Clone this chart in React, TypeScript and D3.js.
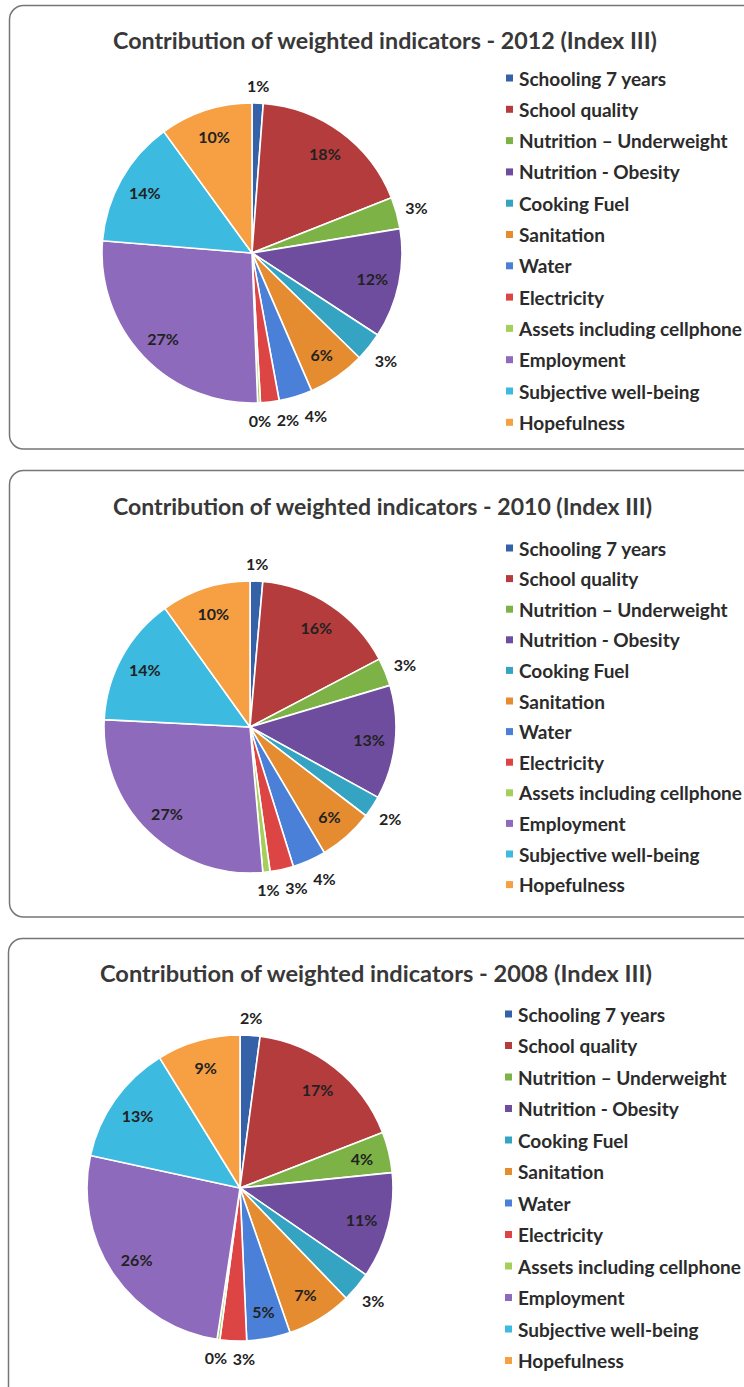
import React from "react";
import * as d3 from "d3";

const categories = [
  "Schooling 7 years",
  "School quality",
  "Nutrition – Underweight",
  "Nutrition - Obesity",
  "Cooking Fuel",
  "Sanitation",
  "Water",
  "Electricity",
  "Assets including cellphone",
  "Employment",
  "Subjective well-being",
  "Hopefulness",
];

const years = ["2012", "2010", "2008"];

// percent contributions, clockwise from 12 o'clock
const values2012 = [1.2, 17.8, 3.4, 11.8, 3.1, 6.2, 3.6, 2.0, 0.3, 26.9, 13.7, 10.0];
const values2010 = [1.4, 15.9, 3.1, 12.6, 2.4, 6.1, 3.7, 2.6, 0.8, 27.2, 14.3, 9.9];
const values2008 = [2.1, 17.0, 4.3, 11.2, 3.2, 6.9, 4.6, 2.8, 0.3, 26.0, 12.8, 8.8];

const colors = [
  "#3461a8",
  "#b43c3c",
  "#7db346",
  "#6e4c9e",
  "#35a3c2",
  "#e58c30",
  "#4a80d8",
  "#dd4444",
  "#a5cf5a",
  "#8d6abb",
  "#3cbadf",
  "#f6a043",
];

const seriesByYear = [values2012, values2010, values2008];

const layouts = [
  { boxY: 5.5, boxH: 443.5, boxX: 9.5, titleY: 40, titleX0: 113, titleX1: 657, cx: 252, cy: 253, r: 150, legX: 506, legY: 78, legStep: 31.3 },
  { boxY: 470.5, boxH: 446.5, boxX: 9.5, titleY: 506, titleX0: 113, titleX1: 652, cx: 250, cy: 727, r: 146, legX: 506, legY: 548, legStep: 30.6 },
  { boxY: 938.5, boxH: 470, boxX: 8.5, titleY: 973, titleX0: 100, titleX1: 652, cx: 240, cy: 1188, r: 153, legX: 505, legY: 1014, legStep: 31.5 },
];

const FONT = "Lato, 'Open Sans', sans-serif";
const LABEL_SIZE = 16;

type Lab = { x: number; y: number; text: string; w: number; outside: boolean };

function Panel({ values, year, L }: { values: number[]; year: string; L: any }) {
  const pie = d3.pie<number>().sort(null).value((d) => d);
  const arcs = pie(values);
  const arc = d3.arc<d3.PieArcDatum<number>>().innerRadius(0).outerRadius(L.r);
  const total = d3.sum(values);

  const labels: Lab[] = arcs.map((a) => {
    const pct = (a.data / total) * 100;
    const text = `${Math.round(pct)}%`;
    const mid = (a.startAngle + a.endAngle) / 2;
    const s = Math.sin(mid);
    const c = Math.cos(mid);
    const w = text.length * 11.5;
    const outside = pct < 4;
    const d = outside ? L.r + 10 + 7 * Math.abs(c) + (w / 2) * 0.8 * Math.abs(s) : L.r * 0.82;
    return { x: L.cx + d * s, y: L.cy - d * c, text, w, outside };
  });

  // resolve overlapping outside labels by pushing to the right
  const outs = labels.filter((l) => l.outside).sort((a, b) => a.x - b.x);
  for (let i = 1; i < outs.length; i++) {
    for (let j = 0; j < i; j++) {
      const a = outs[j];
      const b = outs[i];
      if (Math.abs(a.y - b.y) < 16) {
        const minGap = (a.w + b.w) / 2 + 5;
        if (b.x - a.x < minGap) b.x = a.x + minGap;
      }
    }
  }

  return (
    <g>
      <rect x={L.boxX} y={L.boxY} width={800} height={L.boxH} rx={14} ry={14} fill="#fff" stroke="#767676" strokeWidth={1.5} />
      <text
        x={L.titleX0}
        y={L.titleY}
        dominantBaseline="central"
        fontFamily={FONT}
        fontWeight={700}
        fontSize={22}
        fill="#383838"
        textLength={L.titleX1 - L.titleX0}
        lengthAdjust="spacingAndGlyphs"
      >
        {`Contribution of weighted indicators - ${year} (Index III)`}
      </text>
      <g transform={`translate(${L.cx},${L.cy})`}>
        {arcs.map((a, i) => (
          <path key={i} d={arc(a) || ""} fill={colors[i]} stroke="#fff" strokeWidth={1.6} strokeLinejoin="round" />
        ))}
      </g>
      {labels.map((l, i) => (
        <text
          key={i}
          x={l.x}
          y={l.y}
          textAnchor="middle"
          dominantBaseline="central"
          fontFamily={FONT}
          fontWeight={700}
          fontSize={LABEL_SIZE}
          fill="#222"
        >
          {l.text}
        </text>
      ))}
      {categories.map((c, i) => {
        const y = L.legY + i * L.legStep;
        return (
          <g key={c}>
            <rect x={L.legX} y={y - 3.5} width={7} height={7} fill={colors[i]} />
            <text x={L.legX + 13} y={y} dominantBaseline="central" fontFamily={FONT} fontWeight={700} fontSize={19} fill="#2b2b2b">
              {c}
            </text>
          </g>
        );
      })}
    </g>
  );
}

export default function App() {
  return (
    <div style={{ position: "absolute", left: 0, top: 0, width: 744, height: 1387, overflow: "hidden", background: "#fff" }}>
      <svg width={744} height={1387} viewBox="0 0 744 1387" style={{ display: "block" }}>
        {years.map((y, i) => (
          <Panel key={y} values={seriesByYear[i]} year={y} L={layouts[i]} />
        ))}
      </svg>
    </div>
  );
}
